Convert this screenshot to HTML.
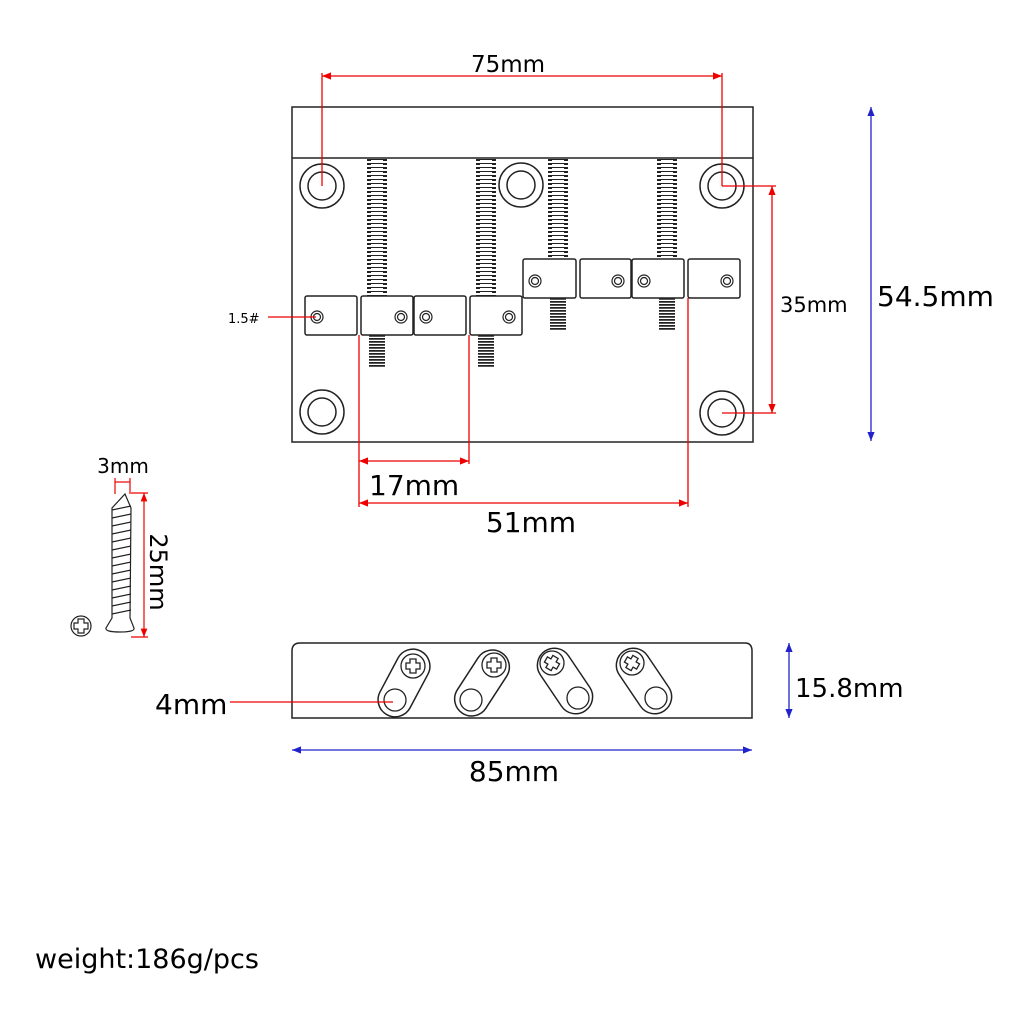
<!DOCTYPE html>
<html><head><style>
body{margin:0;background:#fff}
svg{display:block}
text{font-family:"DejaVu Sans","Liberation Sans",sans-serif;fill:#000}
</style></head><body>
<svg width="1024" height="1024" viewBox="0 0 1024 1024" xmlns="http://www.w3.org/2000/svg">
<defs>
<marker id="ar" viewBox="0 0 10 10" refX="10" refY="5" markerWidth="7" markerHeight="7" orient="auto-start-reverse"><path d="M0 1 L10 5 L0 9 z" fill="#e00"/></marker>
<marker id="ab" viewBox="0 0 10 10" refX="10" refY="5" markerWidth="7" markerHeight="7" orient="auto-start-reverse"><path d="M0 1 L10 5 L0 9 z" fill="#22c"/></marker>
</defs>

<g stroke="#222" stroke-width="1.5" fill="none">
<rect x="292" y="107" width="461" height="335" fill="#fff"/>
<line x1="292" y1="158" x2="753" y2="158"/>
<circle cx="322" cy="186" r="22"/><circle cx="322" cy="186" r="14"/>
<circle cx="521" cy="185" r="22"/><circle cx="521" cy="185" r="14"/>
<circle cx="722" cy="186" r="22"/><circle cx="722" cy="186" r="14"/>
<circle cx="322" cy="412" r="22"/><circle cx="322" cy="412" r="14"/>
<circle cx="722" cy="413" r="22"/><circle cx="722" cy="413" r="14"/>
</g>
<!-- long threads -->
<g stroke="#222" stroke-width="20" stroke-dasharray="2 2">
<line x1="377" y1="159" x2="377" y2="296"/>
<line x1="486" y1="159" x2="486" y2="296"/>
<line x1="558" y1="159" x2="558" y2="259"/>
<line x1="667" y1="159" x2="667" y2="259"/>
</g>
<g stroke="#fff" stroke-width="12" stroke-dasharray="1.5 2.5">
<line x1="377" y1="160" x2="377" y2="296"/>
<line x1="486" y1="160" x2="486" y2="296"/>
<line x1="558" y1="160" x2="558" y2="259"/>
<line x1="667" y1="160" x2="667" y2="259"/>
</g>
<g stroke="#222" stroke-width="16" stroke-dasharray="1.8 1.2">
<line x1="377" y1="335" x2="377" y2="368"/>
<line x1="486" y1="335" x2="486" y2="368"/>
<line x1="558" y1="298" x2="558" y2="331"/>
<line x1="667" y1="298" x2="667" y2="331"/>
</g>
<g stroke="#222" stroke-width="1.5" fill="#fff">
<rect x="305" y="296" width="52" height="39" rx="2"/>
<rect x="361" y="296" width="52" height="39" rx="2"/>
<rect x="414" y="296" width="52" height="39" rx="2"/>
<rect x="470" y="296" width="52" height="39" rx="2"/>
<rect x="523" y="259" width="53" height="39" rx="2"/>
<rect x="580" y="259" width="51" height="39" rx="2"/>
<rect x="632" y="259" width="52" height="39" rx="2"/>
<rect x="688" y="259" width="52" height="39" rx="2"/>
</g>
<g stroke="#222" stroke-width="1.2" fill="none">
<circle cx="317" cy="317" r="6"/><circle cx="317" cy="317" r="3.5"/>
<circle cx="401" cy="317" r="6"/><circle cx="401" cy="317" r="3.5"/>
<circle cx="426" cy="317" r="6"/><circle cx="426" cy="317" r="3.5"/>
<circle cx="509" cy="317" r="6"/><circle cx="509" cy="317" r="3.5"/>
<circle cx="535" cy="281" r="6"/><circle cx="535" cy="281" r="3.5"/>
<circle cx="618" cy="281" r="6"/><circle cx="618" cy="281" r="3.5"/>
<circle cx="644" cy="281" r="6"/><circle cx="644" cy="281" r="3.5"/>
<circle cx="727" cy="281" r="6"/><circle cx="727" cy="281" r="3.5"/>
</g>

<g stroke="#e00" stroke-width="1.3" fill="none">
<line x1="322" y1="73" x2="322" y2="186"/>
<line x1="722" y1="73" x2="722" y2="186"/>
<line x1="322" y1="76" x2="722" y2="76" marker-start="url(#ar)" marker-end="url(#ar)"/>
<line x1="722" y1="186" x2="776" y2="186"/>
<line x1="722" y1="413" x2="776" y2="413"/>
<line x1="772" y1="186" x2="772" y2="413" marker-start="url(#ar)" marker-end="url(#ar)"/>
<line x1="268" y1="317" x2="316" y2="317"/>
<line x1="359" y1="335" x2="359" y2="507"/>
<line x1="469" y1="335" x2="469" y2="464"/>
<line x1="688" y1="298" x2="688" y2="507"/>
<line x1="359" y1="461" x2="469" y2="461" marker-start="url(#ar)" marker-end="url(#ar)"/>
<line x1="359" y1="503" x2="688" y2="503" marker-start="url(#ar)" marker-end="url(#ar)"/>
</g>
<line x1="871" y1="107" x2="871" y2="441" stroke="#22c" stroke-width="1.3" marker-start="url(#ab)" marker-end="url(#ab)"/>

<text x="508" y="72" font-size="23" text-anchor="middle">75mm</text>
<text x="780" y="312" font-size="21">35mm</text>
<text x="877" y="306" font-size="28">54.5mm</text>
<text x="228" y="323" font-size="13">1.5#</text>
<text x="369" y="495" font-size="28">17mm</text>
<text x="531" y="532" font-size="28" text-anchor="middle">51mm</text>

<g stroke="#222" stroke-width="1.2" fill="#fff">
<path d="M125 494 L131 508 L130 618 L134 628 Q135 632 120 632 Q105 632 106 628 L112 618 L112 508 Z"/>
</g>
<g stroke="#222" stroke-width="1.2">
<path d="M112 510 L131 506 M112 518 L131 514 M112 526 L131 522 M112 534 L131 530 M112 542 L131 538 M112 550 L131 546 M112 558 L131 554 M112 566 L131 562 M112 574 L131 570 M112 582 L131 578 M112 590 L131 586 M112 598 L131 594 M112 606 L131 602 M112 614 L131 610"/>
</g>
<g stroke="#e00" stroke-width="1.2" fill="none">
<line x1="115" y1="478" x2="115" y2="494"/>
<line x1="130" y1="478" x2="130" y2="494"/>
<line x1="115" y1="482" x2="130" y2="482"/>
<line x1="131" y1="493" x2="148" y2="493"/>
<line x1="131" y1="637" x2="148" y2="637"/>
<line x1="144" y1="493" x2="144" y2="637" marker-start="url(#ar)" marker-end="url(#ar)"/>
</g>
<text x="123" y="473" font-size="20" text-anchor="middle">3mm</text>
<text x="0" y="0" font-size="24" text-anchor="middle" transform="translate(150,572) rotate(90)">25mm</text>
<g stroke="#222" stroke-width="1.2" fill="none">
<circle cx="81" cy="626" r="10"/>
<path d="M78 619 h6 v4 h4 v6 h-4 v4 h-6 v-4 h-4 v-6 h4 z"/>
</g>

<path d="M292 718 L292 651 Q292 643 300 643 L745 643 Q752 643 752 651 L752 718 Z" fill="#fff" stroke="#222" stroke-width="1.5"/>
<g stroke="#222" stroke-width="1.5" fill="#fff">
<rect x="-36" y="-17" width="72" height="34" rx="17" transform="translate(404,683) rotate(-62)"/>
<rect x="-36" y="-17" width="72" height="34" rx="17" transform="translate(482,683) rotate(-57)"/>
<rect x="-36" y="-17" width="72" height="34" rx="17" transform="translate(565,681) rotate(56)"/>
<rect x="-36" y="-17" width="72" height="34" rx="17" transform="translate(644,681) rotate(56)"/>
</g>
<g stroke="#222" stroke-width="1.3" fill="none">
<circle cx="413" cy="666" r="12"/><circle cx="395" cy="700" r="11"/>
<circle cx="494" cy="665" r="12"/><circle cx="471" cy="700" r="11"/>
<circle cx="552" cy="663" r="12"/><circle cx="578" cy="698" r="11"/>
<circle cx="632" cy="663" r="12"/><circle cx="656" cy="698" r="11"/>
<path d="M410 659 h6 v4 h4 v6 h-4 v4 h-6 v-4 h-4 v-6 h4 z"/>
<path d="M491 658 h6 v4 h4 v6 h-4 v4 h-6 v-4 h-4 v-6 h4 z"/>
<path d="M549 656 h6 v4 h4 v6 h-4 v4 h-6 v-4 h-4 v-6 h4 z" transform="rotate(30 552 663)"/>
<path d="M629 656 h6 v4 h4 v6 h-4 v4 h-6 v-4 h-4 v-6 h4 z" transform="rotate(30 632 663)"/>
</g>
<line x1="230" y1="702" x2="393" y2="702" stroke="#e00" stroke-width="1.3"/>
<text x="155" y="714" font-size="28">4mm</text>
<line x1="789" y1="643" x2="789" y2="718" stroke="#22c" stroke-width="1.3" marker-start="url(#ab)" marker-end="url(#ab)"/>
<text x="795" y="697" font-size="26">15.8mm</text>
<line x1="292" y1="750" x2="752" y2="750" stroke="#22c" stroke-width="1.3" marker-start="url(#ab)" marker-end="url(#ab)"/>
<text x="514" y="781" font-size="28" text-anchor="middle">85mm</text>

<text x="35" y="968" font-size="27">weight:186g/pcs</text>
</svg>
</body></html>
